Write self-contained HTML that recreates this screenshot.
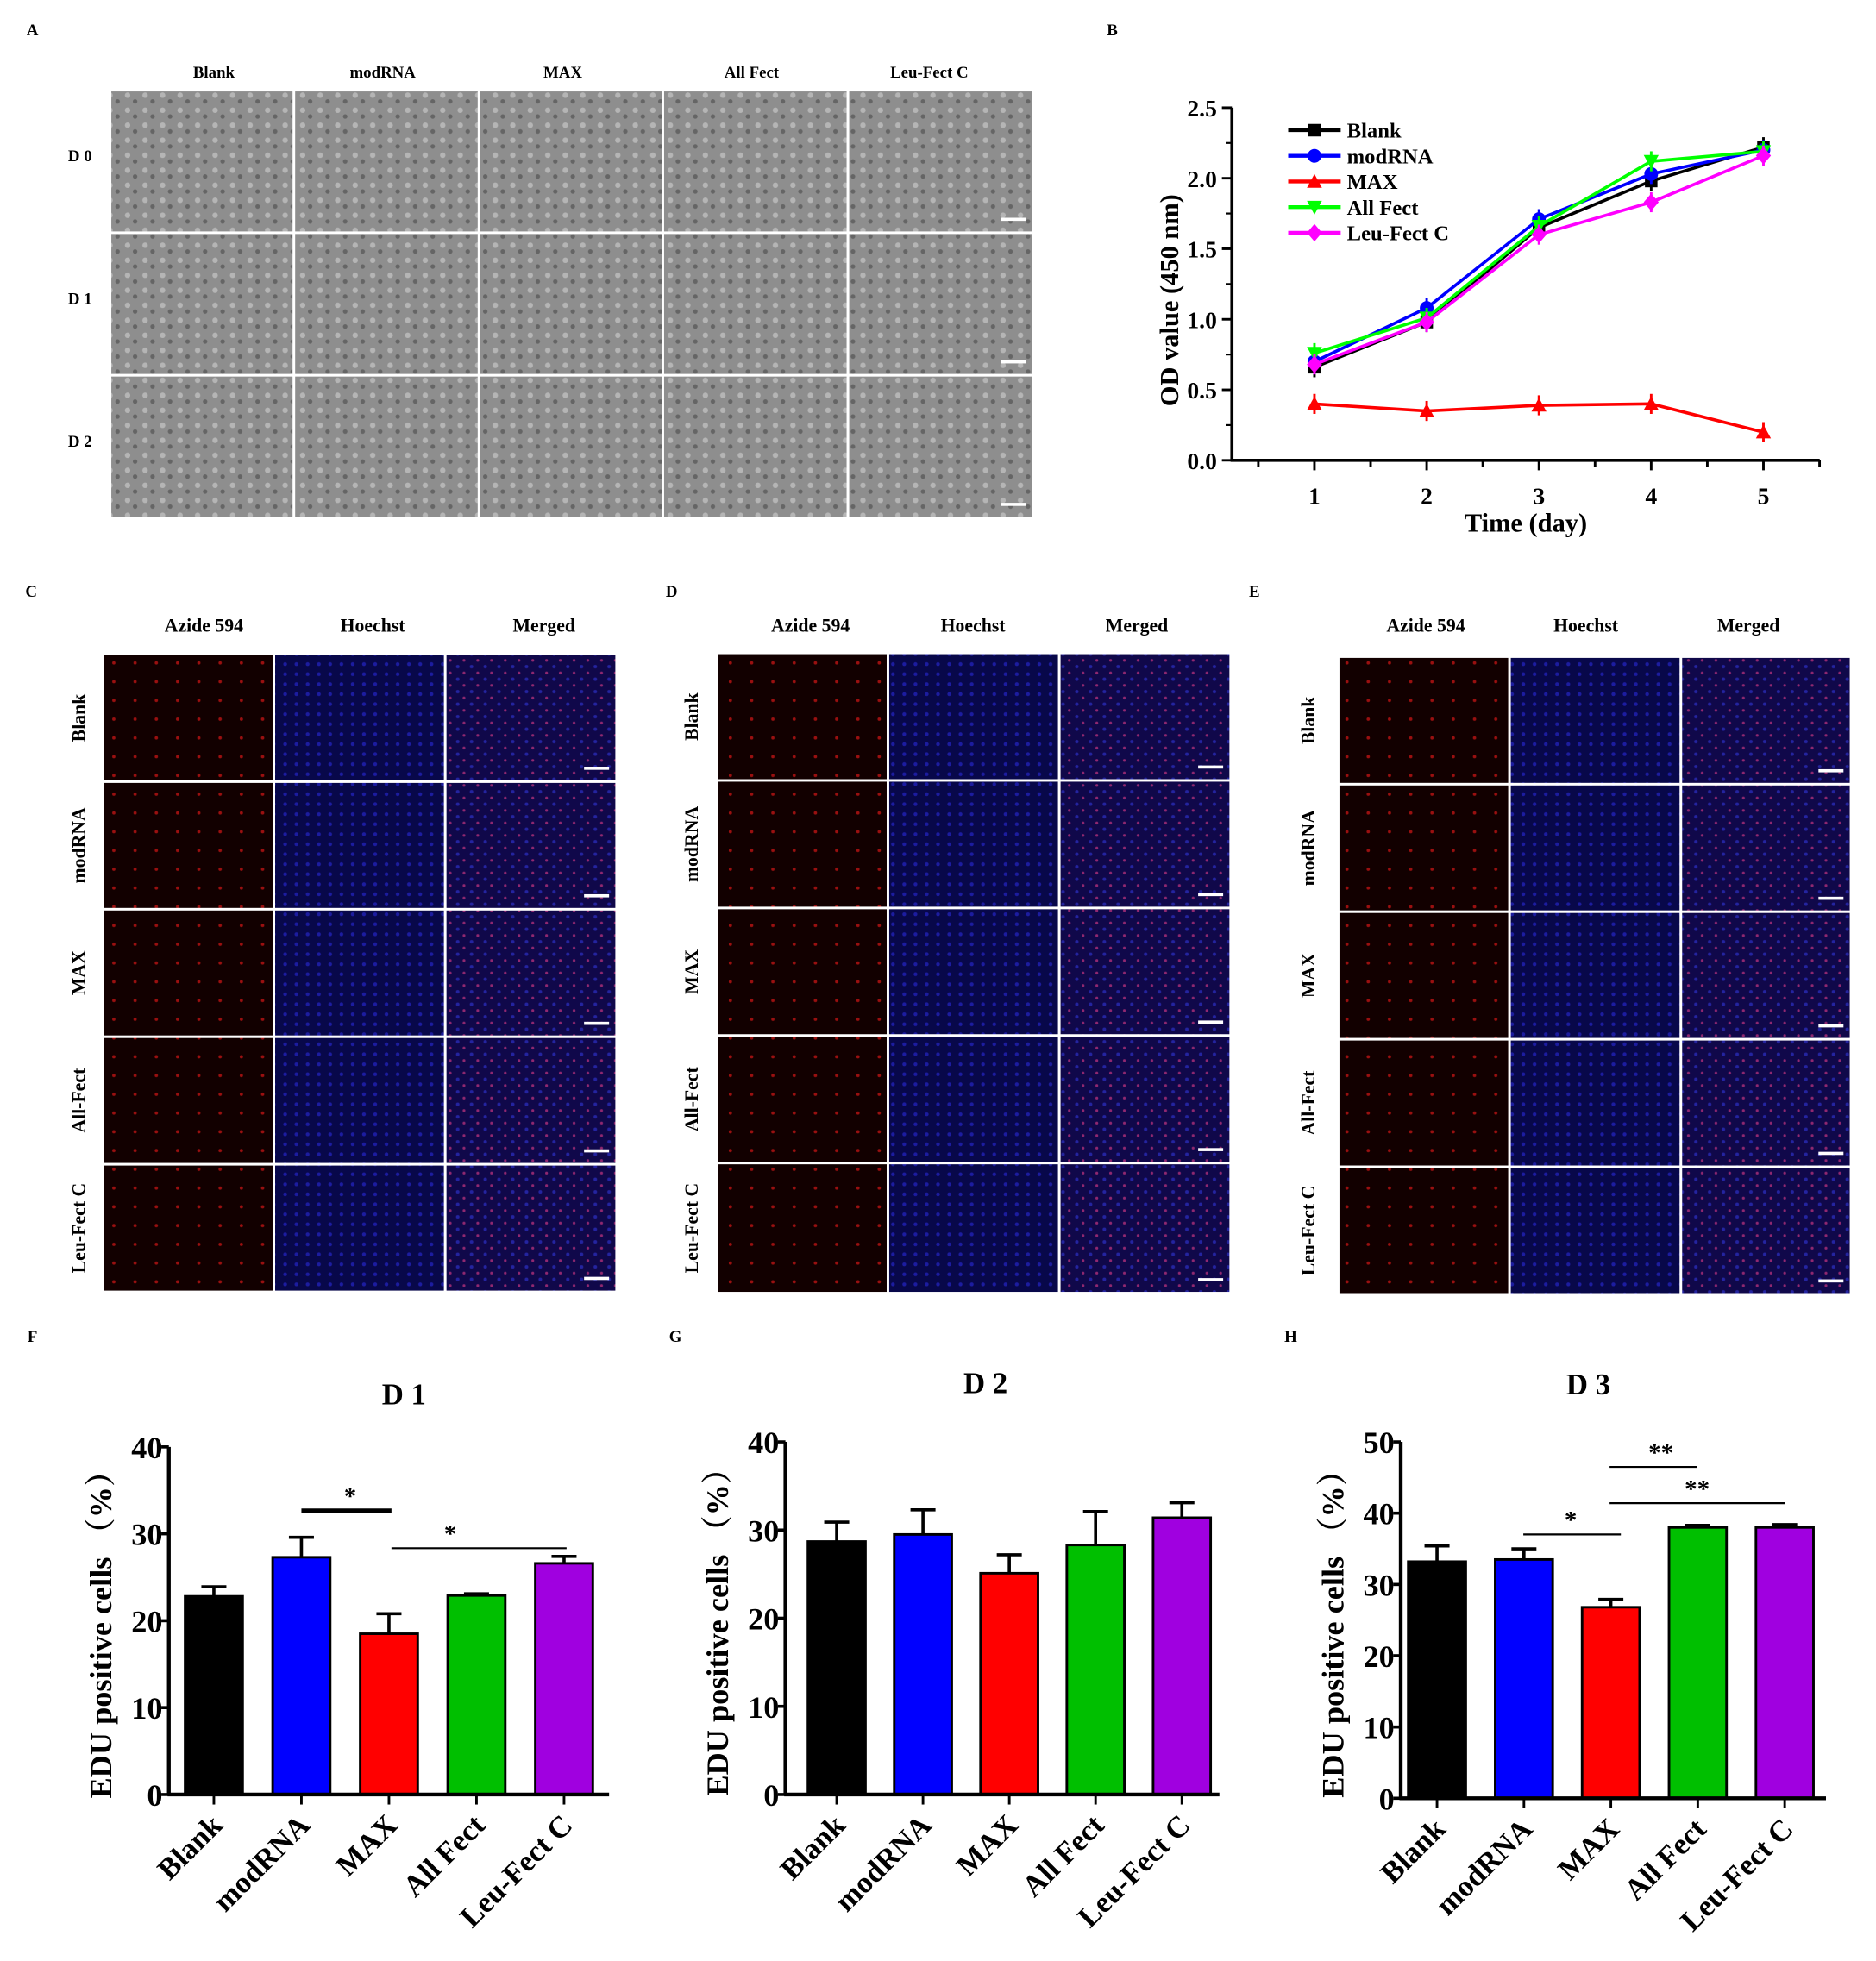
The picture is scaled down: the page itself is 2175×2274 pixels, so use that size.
<!DOCTYPE html>
<html><head><meta charset="utf-8"><style>
html,body{margin:0;padding:0;background:#fff}
svg{display:block}
text{font-family:"Liberation Serif",serif;font-weight:bold;fill:#000}
</style></head><body>
<svg id="fig" width="2175" height="2274" viewBox="0 0 1500 1568" xmlns="http://www.w3.org/2000/svg">
<defs>
<pattern id="grayTex" width="14" height="12" patternUnits="userSpaceOnUse">
<rect width="14" height="12" fill="#8e8e8e"/><circle cx="4" cy="4" r="2.2" fill="#b5b5b5"/><circle cx="10" cy="9" r="1.8" fill="#656565"/>
</pattern>
<pattern id="redTex" width="17" height="15" patternUnits="userSpaceOnUse">
<rect width="17" height="15" fill="#120000"/><circle cx="6" cy="5" r="1.3" fill="#9a1010"/>
</pattern>
<pattern id="blueTex" width="9" height="8" patternUnits="userSpaceOnUse">
<rect width="9" height="8" fill="#08084a"/><circle cx="3" cy="3" r="1.5" fill="#1c1ca0"/>
</pattern>
<pattern id="mergeTex" width="11" height="10" patternUnits="userSpaceOnUse">
<rect width="11" height="10" fill="#10084a"/><circle cx="3" cy="3" r="1.4" fill="#2424a0"/><circle cx="8" cy="8" r="1.1" fill="#902870"/>
</pattern>
</defs>
<g id="panels"></g>
<g id="chartB"></g>
<g id="chartF"></g><g id="chartG"></g><g id="chartH"></g>
</svg>
<script>
const NS="http://www.w3.org/2000/svg";
function mk(parent,tag,attrs,txt){const e=document.createElementNS(NS,tag);for(const k in attrs)e.setAttribute(k,attrs[k]);if(txt!==undefined)e.textContent=txt;parent.appendChild(e);return e;}

// ---------- Panel B data ----------
const daysB=[1,2,3,4,5];
const seriesNamesB=["Blank","modRNA","MAX","All Fect","Leu-Fect C"];
const blankB=[0.66,0.98,1.65,1.98,2.22];
const modRNAB=[0.70,1.08,1.71,2.03,2.20];
const maxB=[0.40,0.35,0.39,0.40,0.20];
const allFectB=[0.76,1.01,1.66,2.12,2.19];
const leuB=[0.68,0.98,1.60,1.83,2.16];
const yTicksB=["0.0","0.5","1.0","1.5","2.0","2.5"];

// ---------- Bar data ----------
const categories=["Blank","modRNA","MAX","All Fect","Leu-Fect C"];
const d1Values=[22.8,27.3,18.5,22.9,26.6];
const d1Errors=[1.1,2.3,2.3,0.2,0.8];
const d2Values=[28.7,29.5,25.1,28.3,31.4];
const d2Errors=[2.2,2.8,2.1,3.8,1.7];
const d3Values=[33.2,33.5,26.8,38.0,38.0];
const d3Errors=[2.2,1.5,1.1,0.3,0.4];
const ticks40=["0","10","20","30","40"];
const ticks50=["0","10","20","30","40","50"];

// ---------- Image panels ----------
const P=document.getElementById('panels');
function lbl(x,y,t,size,name){const e=mk(P,'text',{x:x,y:y,'font-size':size,'text-anchor':'middle'},t);return e;}
function grid(x0,y0,colsX,rowsY,fills,name){
  for(let r=0;r<rowsY.length-1;r++)for(let c=0;c<colsX.length-1;c++){
    const f=typeof fills==='function'?fills(r,c):fills[c];
    const e=mk(P,'rect',{x:colsX[c],y:rowsY[r],width:colsX[c+1]-colsX[c],height:rowsY[r+1]-rowsY[r],fill:f,stroke:'#fff','stroke-width':2});
    
    
  }
  for(let r=0;r<rowsY.length-1;r++){
    const c=colsX.length-1;
    const sb=mk(P,'rect',{x:colsX[c]-26,y:rowsY[r+1]-12,width:20,height:2.5,fill:'#fff'});
    
    
  }
}
// Panel A
lbl(26,28,"A",13,"panel-a-label");
const aCols=[88,235,383,530,678,826],aRows=[72,186,300,414];
[171,306,450,601,743].forEach((x,i)=>lbl(x,62,["Blank","modRNA","MAX","All Fect","Leu-Fect C"][i],13,"panel-a-column-header"));
["D 0","D 1","D 2"].forEach((t,i)=>lbl(64,(aRows[i]+aRows[i+1])/2,t,13,"panel-a-row-label"));
grid(0,0,aCols,aRows,(r,c)=>'url(#grayTex)',"panel-a");
// Fluorescence panels
const fl=[["C",25,[82,219,356,493],[523,625,727,829,931,1033],63,[163,298,435]],["D",537,[573,710,847,984],[522,624,726,828,930,1034],553,[648,778,909]],["E",1003,[1070,1207,1344,1480],[525,627,729,831,933,1035],1046,[1140,1268,1398]]];
fl.forEach(([L,lx,cols,rows,rx,hx])=>{
  lbl(lx,477,L,13,"panel-"+L.toLowerCase()+"-label");
  ["Azide 594","Hoechst","Merged"].forEach((t,i)=>lbl(hx[i],505,t,15,"panel-"+L.toLowerCase()+"-column-header"));
  ["Blank","modRNA","MAX","All-Fect","Leu-Fect C"].forEach((t,i)=>{const y=(rows[i]+rows[i+1])/2;const e=lbl(0,0,t,15,"panel-"+L.toLowerCase()+"-row-label");e.setAttribute('transform','translate('+(rx+5)+','+y+') rotate(-90)');});
  grid(0,0,cols,rows,['url(#redTex)','url(#blueTex)','url(#mergeTex)'],"panel-"+L.toLowerCase());
});

// ---------- Panel B line chart ----------
(function(){
  const g=document.getElementById('chartB');
  const x0=985,xEnd=1455,yBase=368,yTop=86;
  const X=d=>1051+(d-1)*89.75, Y=v=>yBase-(v/2.5)*(yBase-yTop);
  let e=mk(g,'text',{x:885,y:28,'font-size':13},"B");
  e=mk(g,'line',{x1:x0,y1:yTop,x2:x0,y2:yBase+1,stroke:'#000','stroke-width':2.5});
  e=mk(g,'line',{x1:x0-1,y1:yBase,x2:xEnd,y2:yBase,stroke:'#000','stroke-width':2.5});
  yTicksB.forEach((t,i)=>{const v=parseFloat(t),y=Y(v);
    mk(g,'line',{x1:x0-8,y1:y,x2:x0,y2:y,stroke:'#000','stroke-width':2});
    if(i<yTicksB.length-1)mk(g,'line',{x1:x0-5,y1:Y(v+0.25),x2:x0,y2:Y(v+0.25),stroke:'#000','stroke-width':1.5});
    e=mk(g,'text',{x:x0-12,y:y+7,'font-size':19,'text-anchor':'end'},t);});
  for(let d=0.5;d<=5.5;d+=0.5){const x=X(d);if(x<=x0||x>xEnd)continue;mk(g,'line',{x1:x,y1:yBase,x2:x,y2:yBase+(d%1===0?8:5),stroke:'#000','stroke-width':2});}
  daysB.forEach(d=>{e=mk(g,'text',{x:X(d),y:yBase+35,'font-size':19,'text-anchor':'middle'},String(d));});
  e=mk(g,'text',{x:1220,y:425,'font-size':21,'text-anchor':'middle'},"Time (day)");
  e=mk(g,'text',{x:0,y:0,'font-size':21,'text-anchor':'middle',transform:'translate(942,240) rotate(-90)'},"OD value (450 nm)");
  const all=[blankB,modRNAB,maxB,allFectB,leuB],cols=["#000","#0000ff","#ff0000","#00ff00","#ff00ff"],shapes=["sq","ci","tri","itri","dia"];
  function marker(par,s,x,y,c){
    if(s==='sq')return mk(par,'rect',{x:x-5,y:y-5,width:10,height:10,fill:c});
    if(s==='ci')return mk(par,'circle',{cx:x,cy:y,r:5.5,fill:c});
    if(s==='tri')return mk(par,'polygon',{points:`${x},${y-6} ${x-6},${y+5} ${x+6},${y+5}`,fill:c});
    if(s==='itri')return mk(par,'polygon',{points:`${x},${y+6} ${x-6},${y-5} ${x+6},${y-5}`,fill:c});
    return mk(par,'polygon',{points:`${x},${y-7} ${x-6},${y} ${x},${y+7} ${x+6},${y}`,fill:c});
  }
  all.forEach((vals,si)=>{
    const s=mk(g,'g',{});
    
    
    mk(s,'polyline',{points:vals.map((v,i)=>X(daysB[i])+','+Y(v)).join(' '),fill:'none',stroke:cols[si],'stroke-width':2.5});
    vals.forEach((v,i)=>{mk(s,'line',{x1:X(daysB[i]),y1:Y(v)-8,x2:X(daysB[i]),y2:Y(v)+8,stroke:cols[si],'stroke-width':2});const m=marker(s,shapes[si],X(daysB[i]),Y(v),cols[si]);});
    const ly=104+si*20.5;
    const le=mk(g,'g',{});
    
    
    mk(le,'line',{x1:1030,y1:ly,x2:1072,y2:ly,stroke:cols[si],'stroke-width':3});
    marker(le,shapes[si],1051,ly,cols[si]);
    mk(le,'text',{x:1077,y:ly+6,'font-size':17},seriesNamesB[si]);
  });
})();

// ---------- Bar charts ----------
function barChart(id,o){
  const g=document.getElementById(id);
  const Y=v=>o.y0-(v/o.max)*(o.y0-o.yTop);
  let e=mk(g,'text',{x:o.lx,y:1073,'font-size':13},o.L);
  e=mk(g,'text',{x:o.tx,y:o.ty,'font-size':24,'text-anchor':'middle'},o.title);
  o.values.forEach((v,i)=>{const cx=o.c0+i*o.step;
    e=mk(g,'line',{x1:cx,y1:Y(v),x2:cx,y2:Y(v+o.errs[i]),stroke:'#000','stroke-width':2.5});
    mk(g,'line',{x1:cx-10,y1:Y(v+o.errs[i]),x2:cx+10,y2:Y(v+o.errs[i]),stroke:'#000','stroke-width':2.5});
    e=mk(g,'rect',{x:cx-23,y:Y(v),width:46,height:o.y0-Y(v),fill:["#000","#0000ff","#ff0000","#00bf00","#a000e0"][i],stroke:'#000','stroke-width':2});
    
    
    mk(g,'line',{x1:cx,y1:o.y0,x2:cx,y2:o.y0+8,stroke:'#000','stroke-width':2});
    e=mk(g,'text',{x:0,y:0,'font-size':24,'text-anchor':'end',transform:`translate(${cx+8},${o.y0+26}) rotate(-45)`},categories[i]);
    
  });
  e=mk(g,'line',{x1:o.ax,y1:o.yTop,x2:o.ax,y2:o.y0+1,stroke:'#000','stroke-width':3});
  e=mk(g,'line',{x1:o.ax-1,y1:o.y0,x2:o.xEnd,y2:o.y0,stroke:'#000','stroke-width':3});
  o.ticks.forEach(t=>{const y=Y(parseFloat(t));mk(g,'line',{x1:o.ax-6,y1:y,x2:o.ax,y2:y,stroke:'#000','stroke-width':2.5});
    e=mk(g,'text',{x:o.ax-5,y:y+9,'font-size':25,'text-anchor':'end'},t);});
  e=mk(g,'text',{x:0,y:0,'font-size':25,'text-anchor':'middle',transform:`translate(${o.ax-46},${(o.y0+o.yTop)/2+5}) rotate(-90)`},"EDU positive cells （%）");
  e.style.fontFamily='"Liberation Serif","Noto Serif CJK SC",serif';
  
  o.sig.forEach(s=>{mk(g,'line',{x1:s[0],y1:s[2],x2:s[1],y2:s[2],stroke:'#000','stroke-width':s[4]||1.5});
    e=mk(g,'text',{x:s[5],y:s[2]-5,'font-size':20,'text-anchor':'middle'},s[3]);});
}
barChart('chartF',{L:"F",lx:22,title:"D 1",tx:323,ty:1123,ax:135,y0:1435,yTop:1157,max:40,xEnd:487,c0:171,step:70,values:d1Values,errs:d1Errors,ticks:ticks40,
  sig:[[241,313,1208,"*",3.5,280],[313,453,1238,"*",1.5,360]]});
barChart('chartG',{L:"G",lx:535,title:"D 2",tx:788,ty:1114,ax:628,y0:1435,yTop:1153,max:40,xEnd:975,c0:669,step:69,values:d2Values,errs:d2Errors,ticks:ticks40,sig:[]});
barChart('chartH',{L:"H",lx:1027,title:"D 3",tx:1270,ty:1115,ax:1120,y0:1438,yTop:1153,max:50,xEnd:1460,c0:1149,step:69.5,values:d3Values,errs:d3Errors,ticks:ticks50,
  sig:[[1218,1296,1227,"*",1.5,1256],[1287,1357,1173,"**",1.5,1328],[1287,1427,1202,"**",1.5,1357]]});
</script>
</body></html>
